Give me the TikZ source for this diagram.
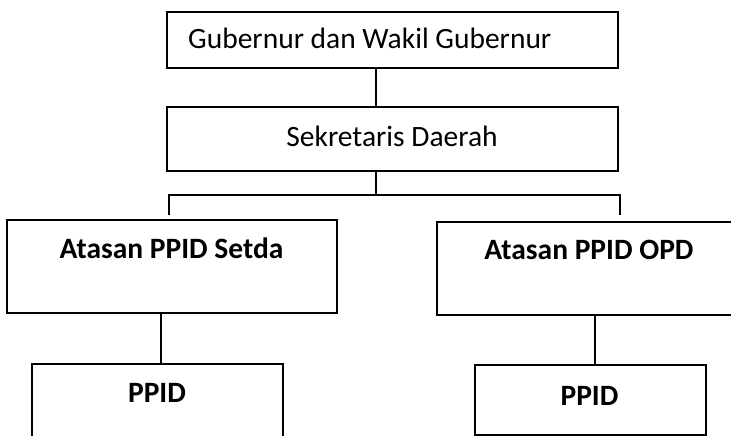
\documentclass[tikz,border=0pt]{standalone}
\usepackage{fontspec}
\setmainfont{Carlito}
\begin{document}
\begin{tikzpicture}[x=1pt,y=-1pt,
  box/.style={draw=black,line width=1.4pt,rectangle,inner sep=0pt,outer sep=0pt,fill=none},
  conn/.style={draw=black,line width=1.4pt},
  lbl/.style={inner sep=0pt,font=\fontsize{29.5}{35}\selectfont},
  blbl/.style={inner sep=0pt,font=\fontsize{29.5}{35}\selectfont\bfseries}]
\useasboundingbox (0,0) rectangle (731,436);
\clip (0,0) rectangle (731,436);
\fill[white] (0,0) rectangle (731,436);
% boxes
\node[box,minimum width=451pt,minimum height=56pt] (gub) at (392.5,40) {};
\node[box,minimum width=451pt,minimum height=64pt] (sek) at (392.5,139) {};
\node[box,minimum width=330pt,minimum height=93pt] (as1) at (172,266.5) {};
\node[box,minimum width=313pt,minimum height=93pt] (as2) at (593.5,268.5) {};
\node[box,minimum width=251pt,minimum height=96pt] (pp1) at (157.5,412) {};
\node[box,minimum width=231pt,minimum height=70pt] (pp2) at (590.5,400) {};
% texts
\node[lbl,anchor=base west] (tgub) at (188,49) {Gubernur dan Wakil Gubernur};
\node[lbl,anchor=base] (tsek) at (392,146) {Sekretaris Daerah};
\node[blbl,anchor=base] (tas1) at (171.5,258) {Atasan PPID Setda};
\node[blbl,anchor=base] (tas2) at (589,259) {Atasan PPID OPD};
\node[blbl,anchor=base] (tpp1) at (157,402.5) {PPID};
\node[blbl,anchor=base] (tpp2) at (589.5,405) {PPID};
% connectors
\coordinate (mid) at (376,195);
\coordinate (bl) at (169,195);
\coordinate (br) at (620,195);
\coordinate (tl) at (169,215);
\coordinate (tr) at (620,215);
\draw[conn] (gub.south -| mid) -- (sek.north -| mid);
\draw[conn] (sek.south -| mid) -- (mid);
\draw[conn] (tl) -- (bl) -- (br) -- (tr);
\draw[conn] (as1.south -| 161,0) -- (pp1.north -| 161,0);
\draw[conn] (as2.south -| 595,0) -- (pp2.north -| 595,0);
\end{tikzpicture}
\end{document}
